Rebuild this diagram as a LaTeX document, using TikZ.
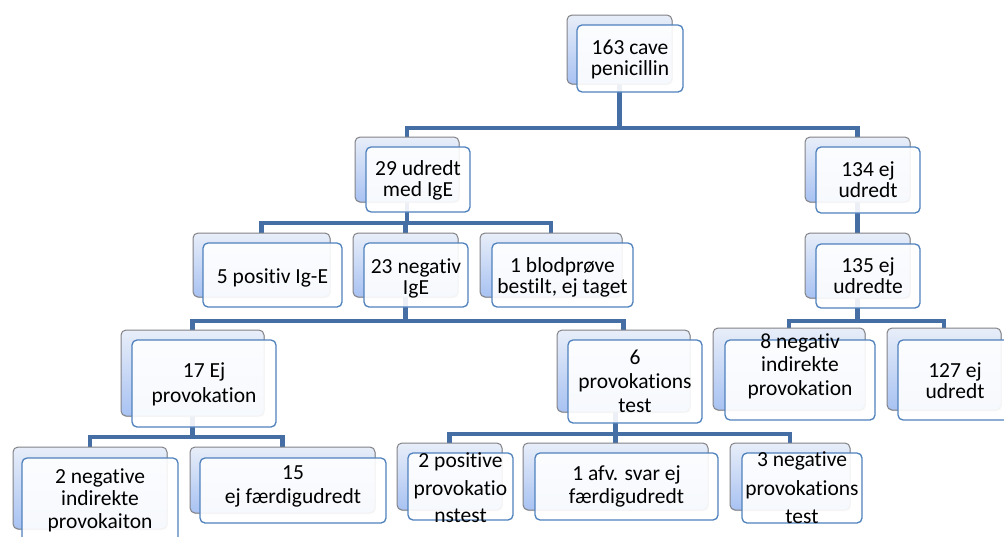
\documentclass[tikz,border=0pt]{standalone}
\usepackage{fontspec}
\setmainfont{Carlito}[Ligatures=NoCommon]
\usetikzlibrary{fit,shadows,backgrounds}
\definecolor{conncol}{RGB}{68,110,164}
\definecolor{backtop}{RGB}{232,238,249}
\definecolor{backbot}{RGB}{168,194,242}
\definecolor{backedge}{RGB}{130,130,135}
\definecolor{frontedge}{RGB}{79,129,189}
\tikzset{
  backbox/.style={rounded corners=5pt, draw=backedge, line width=1pt, top color=backtop, bottom color=backbot, inner sep=0pt, drop shadow={shadow xshift=0.8pt, shadow yshift=-1.2pt, opacity=0.35}},
  frontbox/.style={rounded corners=5pt, draw=frontedge, line width=1.3pt, fill=white, fill opacity=0.9, inner sep=0pt},
  txt/.style={align=center, inner sep=0pt, text=black, font=\fontsize{21.5}{21}\selectfont},
  conn/.style={draw=conncol, line width=4.6pt, line join=miter}
}
\begin{document}
\begin{tikzpicture}[x=1pt,y=-1pt]
\useasboundingbox (0,0) rectangle (1004,536);
% back boxes
\node[backbox, fit={(567,15) (672,84)}] (n1b) {};
\node[backbox, fit={(355,137) (459,202)}] (n2b) {};
\node[backbox, fit={(805,137) (910,202)}] (n3b) {};
\node[backbox, fit={(805,233) (910,298)}] (n4b) {};
\node[backbox, fit={(193,233) (330,297)}] (n5b) {};
\node[backbox, fit={(353,233) (458,297)}] (n6b) {};
\node[backbox, fit={(480,233) (622,297)}] (n7b) {};
\node[backbox, fit={(121,330) (264,416)}] (n8b) {};
\node[backbox, fit={(557,330) (690,412)}] (n9b) {};
\node[backbox, fit={(713,328) (865,410)}] (n10b) {};
\node[backbox, fit={(887,328) (1001,410)}] (n11b) {};
\node[backbox, fit={(13,447) (167,529)}] (n12b) {};
\node[backbox, fit={(190,447) (375,513)}] (n13b) {};
\node[backbox, fit={(397,443) (502,510)}] (n14b) {};
\node[backbox, fit={(523,443) (708,510)}] (n15b) {};
\node[backbox, fit={(730,443) (850,510)}] (n16b) {};
% front boxes
\node[frontbox, fit={(577,25) (683,92)}] (n1) {};
\node[frontbox, fit={(366,147) (470,212)}] (n2) {};
\node[frontbox, fit={(816,147) (920,213)}] (n3) {};
\node[frontbox, fit={(816,244) (920,308)}] (n4) {};
\node[frontbox, fit={(203,243) (342,307)}] (n5) {};
\node[frontbox, fit={(364,243) (468,307)}] (n6) {};
\node[frontbox, fit={(492,243) (633,307)}] (n7) {};
\node[frontbox, fit={(132,340) (276,427)}] (n8) {};
\node[frontbox, fit={(568,340) (702,423)}] (n9) {};
\node[frontbox, fit={(725,340) (875,420)}] (n10) {};
\node[frontbox, fit={(898,340) (1012,420)}] (n11) {};
\node[frontbox, fit={(22,458) (178,545)}] (n12) {};
\node[frontbox, fit={(200,458) (386,523)}] (n13) {};
\node[frontbox, fit={(408,453) (513,520)}] (n14) {};
\node[frontbox, fit={(535,453) (718,520)}] (n15) {};
\node[frontbox, fit={(742,453) (862,523)}] (n16) {};
% texts
\node[txt] (t1) at (630,59) {163 cave\\penicillin};
\node[txt] (t2) at (418,180) {29 udredt\\med IgE};
\node[txt] (t3) at (868,180) {134 ej\\udredt};
\node[txt] (t4) at (868,276) {135 ej\\udredte};
\node[txt] (t5) at (272.5,278) {5 positiv Ig-E};
\node[txt] (t6) at (416,278) {23 negativ\\IgE};
\node[txt] (t7) at (562.5,277) {1 blodprøve\\bestilt, ej taget};
\node[txt, font=\fontsize{21.5}{25}\selectfont] (t8) at (204,384) {17 Ej\\provokation};
\node[txt, font=\fontsize{21.5}{24}\selectfont] (t9) at (635,381) {6\\provokations\\test};
\node[txt, font=\fontsize{21.5}{23.5}\selectfont] (t10) at (800,366) {8 negativ\\indirekte\\provokation};
\node[txt] (t11) at (955,381) {127 ej\\udredt};
\node[txt, font=\fontsize{21.5}{22.5}\selectfont] (t12) at (100,500) {2 negative\\indirekte\\provokaiton};
\node[txt, font=\fontsize{21.5}{24}\selectfont] (t13) at (293,486) {15\\ej færdigudredt};
\node[txt, font=\fontsize{21.5}{27.5}\selectfont] (t14) at (460.5,488) {2 positive\\provokatio\\nstest};
\node[txt, font=\fontsize{21.5}{23}\selectfont] (t15) at (626.5,486) {1 afv. svar ej\\færdigudredt};
\node[txt, font=\fontsize{21.5}{28.5}\selectfont] (t16) at (802,488) {3 negative\\provokations\\test};
% connectors
\begin{scope}[on background layer]
\coordinate (y1) at (0,128);
\coordinate (y2) at (0,223);
\coordinate (y3) at (0,321);
\coordinate (y4) at (0,437);
\coordinate (y5) at (0,434);
\draw[conn] (n1b.center) -- (n1b.center |- y1);
\draw[conn] (n2b.north) |- (n3b.north |- y1) -- (n3b.north);
\draw[conn] (n2b.center) -- (n2b.center |- y2);
\draw[conn] (n5b.north) |- (n7b.north |- y2) -- (n7b.north);
\draw[conn] (n6b.north) -- (n6b.north |- y2);
\draw[conn] (n6b.center) -- (n6b.center |- y3);
\draw[conn] (n8b.north) |- (n9b.north |- y3) -- (n9b.north);
\draw[conn] (n3b.center) -- (n4b.north);
\draw[conn] (n4b.center) -- (n4b.center |- y3);
\draw[conn] (n10b.north) |- (n11b.north |- y3) -- (n11b.north);
\draw[conn] (n8b.center) -- (n8b.center |- y4);
\draw[conn] (n12b.north) |- (n13b.north |- y4) -- (n13b.north);
\draw[conn] (n9b.center -| n15b.north) -- (n15b.north);
\draw[conn] (n14b.north) |- (n16b.north |- y5) -- (n16b.north);
\end{scope}
\end{tikzpicture}
\end{document}
